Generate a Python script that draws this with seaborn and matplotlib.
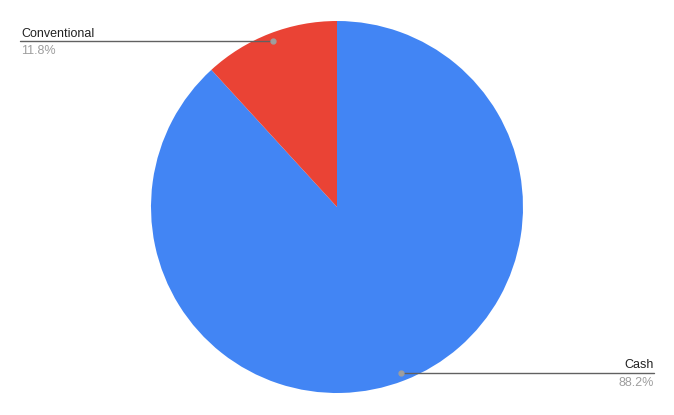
import numpy as np
import matplotlib.pyplot as plt
import seaborn as sns

## Data
categories = ["Cash", "Conventional"]
shares = [88.2, 11.8]
colors = ["#4285F4", "#EA4335"]

sns.set_style("white")
plt.rcParams['font.family'] = ['Liberation Sans', 'DejaVu Sans']

W, H = 674, 415
fig = plt.figure(figsize=(W / 100, H / 100), dpi=100)
ax = fig.add_axes([0, 0, 1, 1])

cx, cy, r = 337, H - 207, 186
wedges, _ = ax.pie(shares, colors=colors, startangle=90, counterclock=False,
                   center=(cx, cy), radius=r, frame=True,
                   wedgeprops=dict(linewidth=0))
ax.set_xlim(0, W)
ax.set_ylim(0, H)
ax.set_aspect('equal')
ax.axis('off')

## Leader lines + labels
total = sum(shares)
for w, name, val in zip(wedges, categories, shares):
    mid = np.deg2rad((w.theta1 + w.theta2) / 2)
    px = cx + 0.955 * r * np.cos(mid)
    py = cy + 0.955 * r * np.sin(mid)
    if np.cos(mid) < 0:
        x_end, ha, tx = 20, 'left', 21
    else:
        x_end, ha, tx = 654, 'right', 654
    ax.plot([px, x_end], [py, py], color='#616161', lw=1.0, zorder=3)
    ax.plot(px, py, 'o', color='#9e9e9e', ms=3.5, zorder=4)
    ax.text(tx, py + 1.5, name, ha=ha, va='bottom', fontsize=9, color='#222222')
    ax.text(tx, py - 4, f"{val / total * 100:.1f}%", ha=ha, va='top',
            fontsize=9, color='#9e9e9e')

fig.savefig("out.png", dpi=100, facecolor='white')
